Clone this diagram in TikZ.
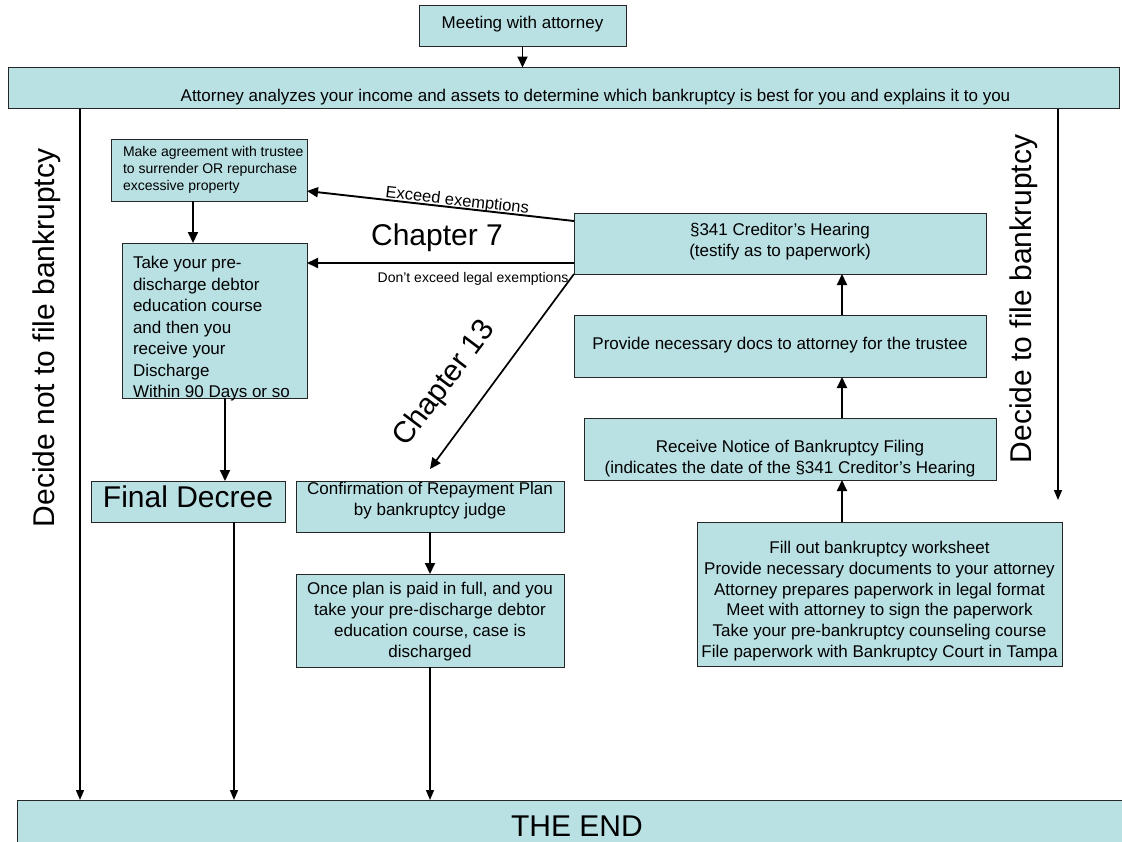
\documentclass[tikz,border=0pt]{standalone}
\usepackage{fontspec}
\setmainfont{Liberation Sans}
\usetikzlibrary{arrows.meta,calc}
\definecolor{boxfill}{HTML}{B9E0E3}
\newcommand\fs[2]{\fontsize{#1}{#2}\selectfont}
% #1 vertical shift, #2 width, #3 alignment+font, #4 text
\newcommand\btxt[4]{\raisebox{#1}[0pt][0pt]{\parbox[c]{#2}{#3#4}}}
\begin{document}
\begin{tikzpicture}[x=1pt,y=-1pt,
  box/.style={draw=black!85, fill=boxfill, line width=0.9pt, inner sep=0pt, outer sep=0pt},
  arr/.style={line width=1.9pt, -{Triangle[length=11pt,width=10pt]}},
  larr/.style={line width=1.4pt, -{Triangle[length=10pt,width=8pt]}},
  lbl/.style={inner sep=0pt},
]
\useasboundingbox (0,0) rectangle (1122,841);

% boxes
\node[box, minimum width=207pt, minimum height=41pt] (meet) at (522.5,25.5)
  {\btxt{-1pt}{200pt}{\centering\fs{17}{20}}{Meeting with attorney}};
\node[box, minimum width=1111pt, minimum height=41pt] (attn) at (563.5,88)
  {\hspace*{64pt}\btxt{-12pt}{1000pt}{\centering\fs{17}{20}}{Attorney analyzes your income and assets to determine which bankruptcy is best for you and explains it to you}};

\node[box, minimum width=196pt, minimum height=62pt] (agree) at (209,170)
  {\btxt{-2pt}{172pt}{\raggedright\fs{14}{17}}{\mbox{Make agreement with trustee}\\\mbox{to surrender OR repurchase}\\\mbox{excessive property}}};
\node[box, minimum width=185pt, minimum height=155pt] (take) at (214.5,320.5)
  {\btxt{-11pt}{163pt}{\raggedright\fs{17}{21.5}}{Take your pre-\\discharge debtor\\education course\\and then you\\receive your\\Discharge\\Within 90 Days or so}};
\node[box, minimum width=194pt, minimum height=41pt] (final) at (188,501.5)
  {\btxt{2.5pt}{190pt}{\centering\fs{30}{36}}{Final Decree}};

\node[box, minimum width=412pt, minimum height=61pt] (hear) at (780,243.5)
  {\btxt{-0.5pt}{400pt}{\centering\fs{17}{21.5}}{§341 Creditor’s Hearing\\(testify as to paperwork)}};
\node[box, minimum width=412pt, minimum height=62pt] (prov) at (780,346)
  {\btxt{-1.5pt}{410pt}{\centering\fs{17}{21}}{Provide necessary docs to attorney for the trustee}};
\node[box, minimum width=412pt, minimum height=62pt] (recv) at (790,449)
  {\btxt{-12pt}{410pt}{\centering\fs{17}{21}}{Receive Notice of Bankruptcy Filing\\(indicates the date of the §341 Creditor’s Hearing}};
\node[box, minimum width=365pt, minimum height=144pt] (fill) at (879.5,594)
  {\btxt{-9.5pt}{365pt}{\centering\fs{17}{20.8}}{Fill out bankruptcy worksheet\\Provide necessary documents to your attorney\\Attorney prepares paperwork in legal format\\Meet with attorney to sign the paperwork\\Take your pre-bankruptcy counseling course\\File paperwork with Bankruptcy Court in Tampa}};

\node[box, minimum width=268pt, minimum height=51pt] (conf) at (430,506.5)
  {\btxt{3pt}{266pt}{\centering\fs{17}{21}}{Confirmation of Repayment Plan\\by bankruptcy judge}};
\node[box, minimum width=268pt, minimum height=93pt] (once) at (430,620.5)
  {\btxt{-4pt}{262pt}{\centering\fs{17}{21}}{Once plan is paid in full, and you\\take your pre-discharge debtor\\education course, case is\\discharged}};

\node[box, minimum width=1120pt, minimum height=52pt] (end) at (577,826)
  {\btxt{-3pt}{300pt}{\centering\fs{30}{36}}{THE END}};

% side labels
\node[lbl, rotate=90, font=\fs{30}{36}] (dnot) at (47,338) {Decide not to file bankruptcy};
\node[lbl, rotate=90, font=\fs{30}{36}] (dyes) at (1024,299) {Decide to file bankruptcy};

% coordinates for free ends
\coordinate (yesend) at (1058,500);
\coordinate (c13end) at (430,469);

% connectors
\draw[arr] (meet.south) -- (attn.north -| meet.south);
\draw[larr] (attn.south -| 80,0) -- (end.north -| 80,0);
\draw[larr] (attn.south -| 1058,0) -- (yesend);

\draw[arr] (agree.south -| 193,0) -- (take.north -| 193,0);
\draw[arr] (take.south -| 225,0) -- (final.north -| 225,0);
\draw[larr] (final.south -| 234,0) -- (end.north -| 234,0);

\draw[arr] (hear.west |- 0,221) -- node[lbl, pos=0.44, above=-2pt, sloped, font=\fs{16.5}{19}] (exlbl) {Exceed exemptions} (agree.east |- 0,191);
\draw[arr] (hear.west |- 0,263) -- (take.east |- 0,263);
\node[lbl, font=\fs{30}{36}] (ch7) at (437,238) {Chapter 7};
\node[lbl, font=\fs{14}{17}] (dex) at (473,279) {Don’t exceed legal exemptions};

\draw[arr, line width=1.7pt] (hear.south west) -- (c13end);
\node[lbl, rotate=53, font=\fs{30}{36}] (ch13) at (445,384) {Chapter 13};

\draw[arr] (conf.south) -- (once.north);
\draw[larr] (once.south) -- (end.north -| once.south);

\draw[arr] (prov.north -| 842,0) -- (hear.south -| 842,0);
\draw[arr] (recv.north -| 842,0) -- (prov.south -| 842,0);
\draw[arr] (fill.north -| 842,0) -- (recv.south -| 842,0);
\end{tikzpicture}
\end{document}
